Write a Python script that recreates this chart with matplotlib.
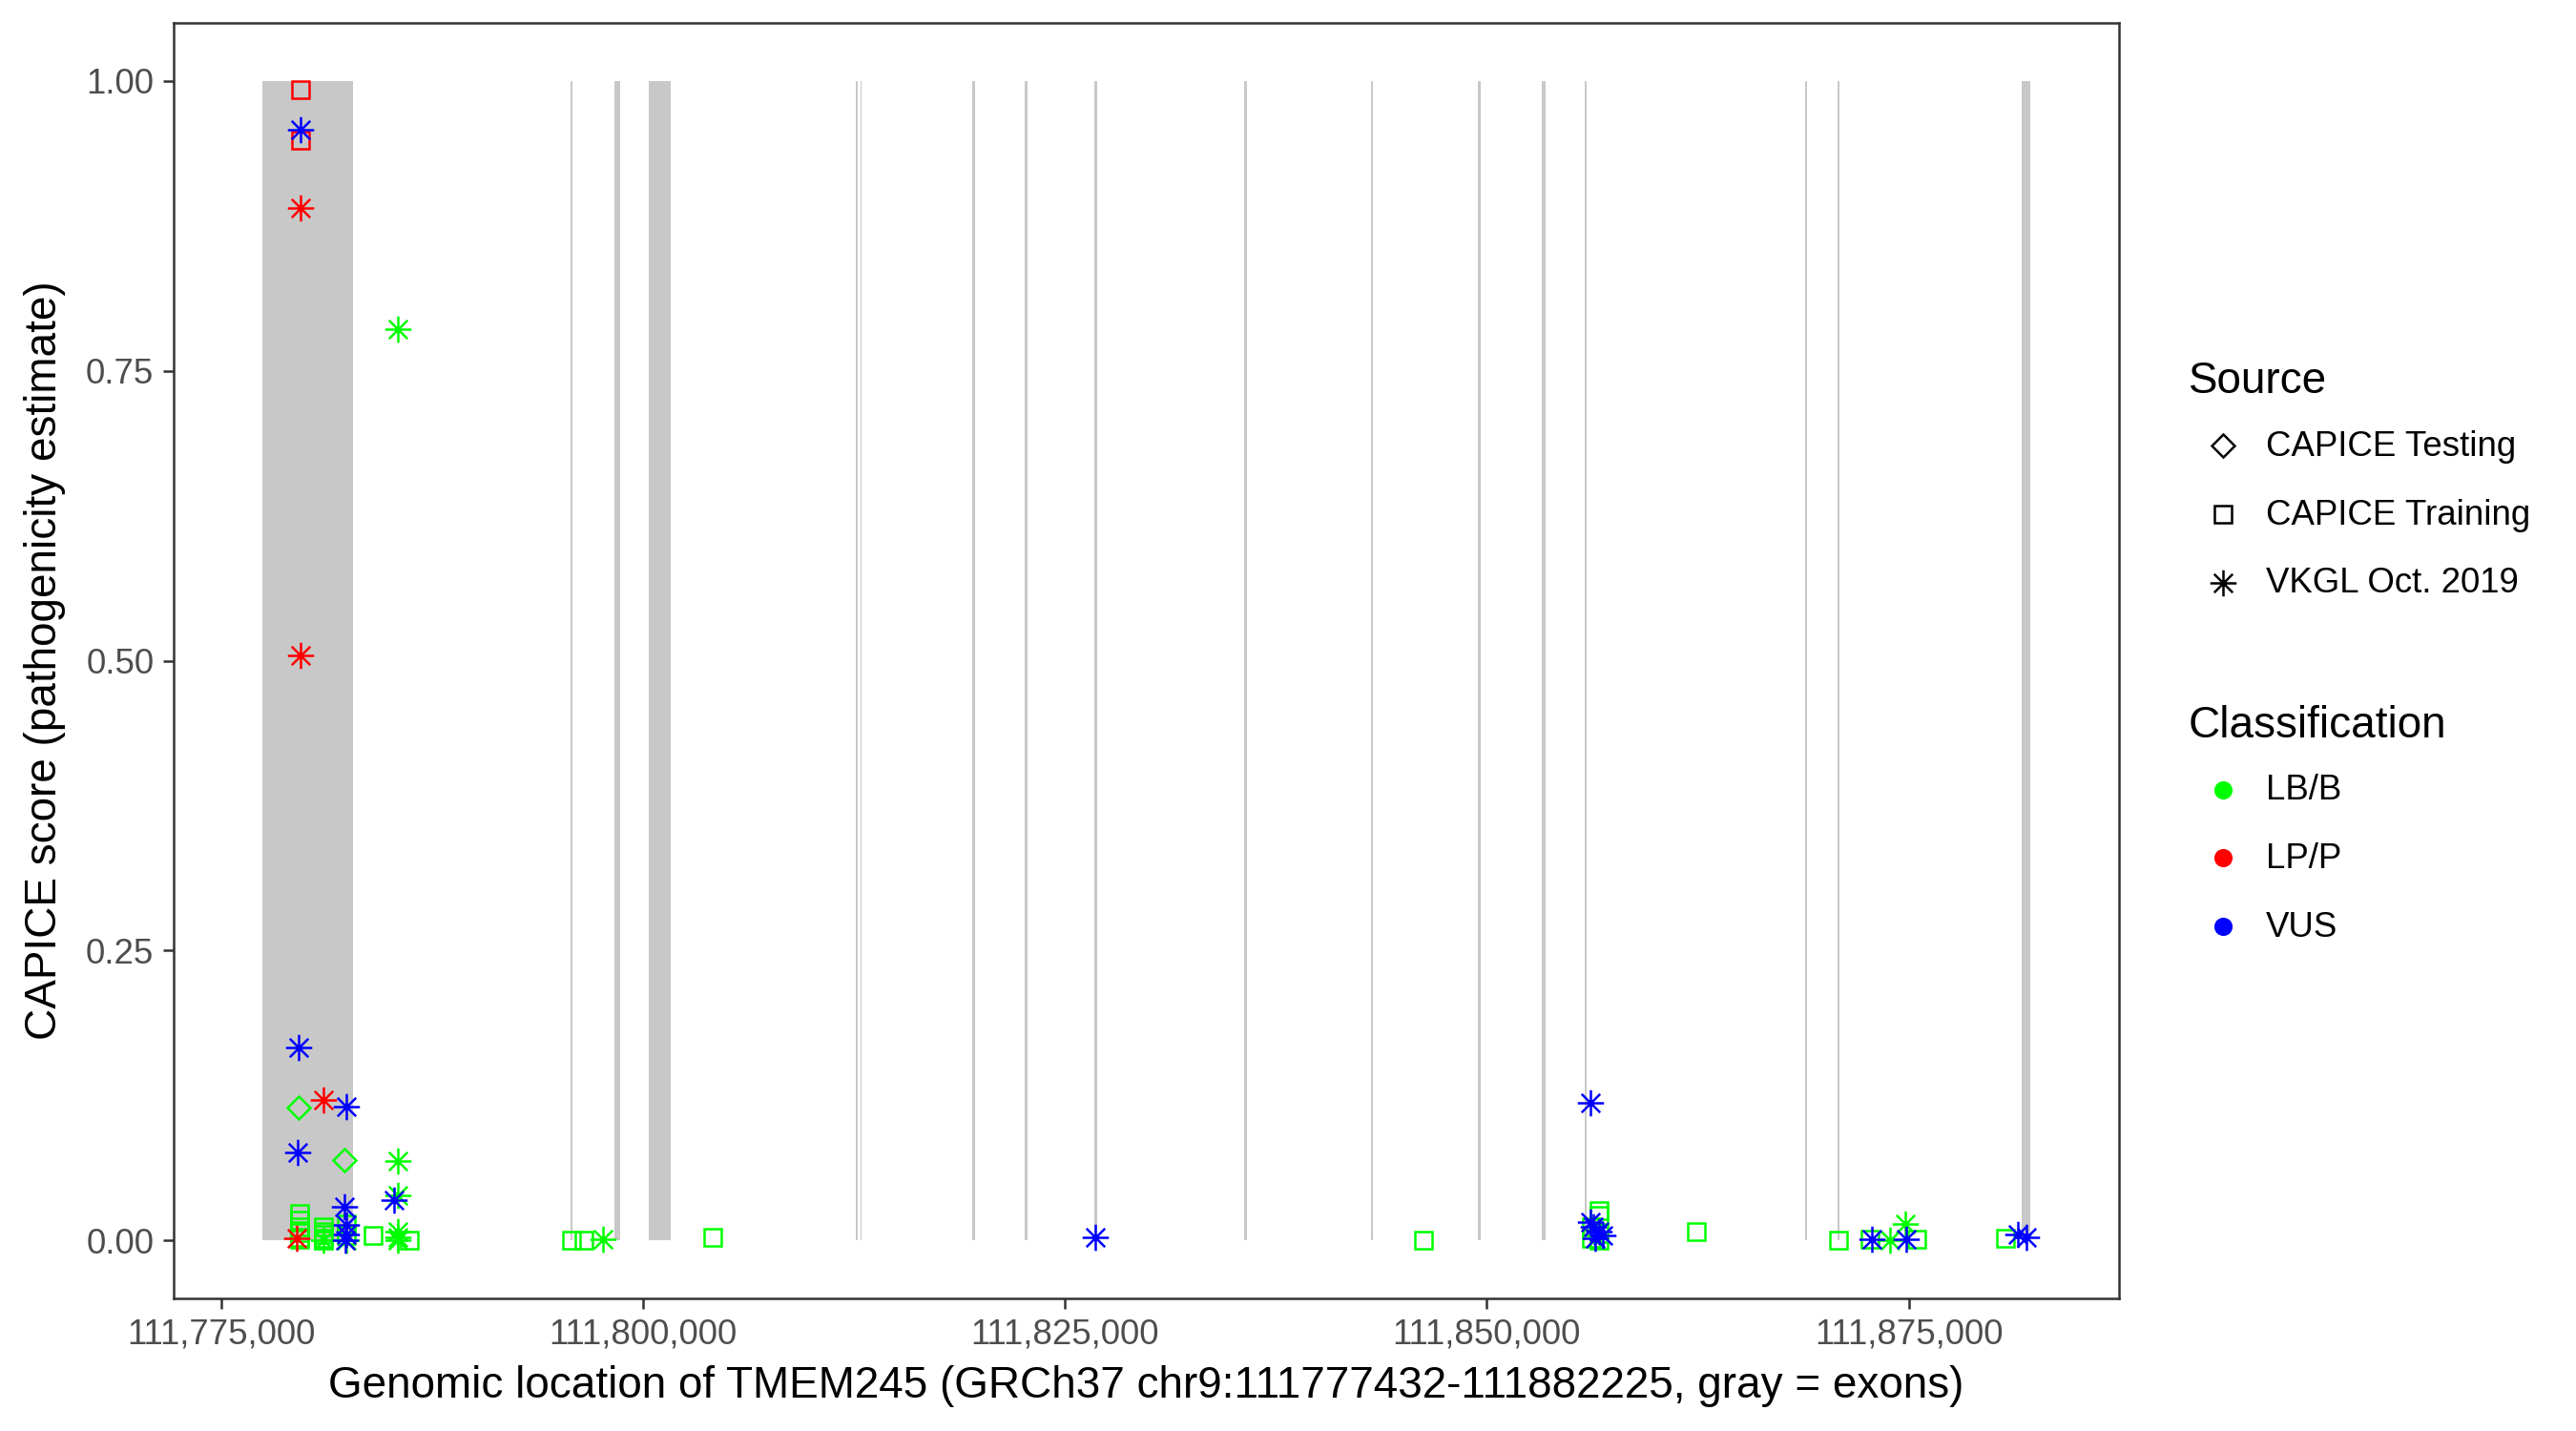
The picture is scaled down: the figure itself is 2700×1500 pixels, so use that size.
import matplotlib
matplotlib.use('Agg')
import matplotlib.pyplot as plt
from matplotlib.path import Path
from matplotlib.lines import Line2D
from matplotlib.ticker import FuncFormatter, FixedLocator
import numpy as np

plt.rcParams['font.family'] = ['Liberation Sans', 'DejaVu Sans']

# ---------------- data ----------------
gene_start = 111777432
gene_end = 111882225

exon_starts = [111777432, 111795700, 111798330, 111800373, 111812640, 111812890,
               111819520, 111822640, 111826760, 111835650, 111843140, 111849490,
               111853290, 111855800, 111868860, 111870800, 111881700]
exon_ends = [111782840, 111795850, 111798660, 111801660, 111812720, 111812970,
             111819660, 111822780, 111826890, 111835790, 111843270, 111849630,
             111853510, 111855930, 111868990, 111870910, 111882225]

# CAPICE Testing
test_lbb_pos = [111779620, 111782320]
test_lbb_score = [0.1149, 0.0694]

# CAPICE Training
train_lpp_pos = [111779700, 111779700]
train_lpp_score = [0.992, 0.949]

train_lbb_pos = [111779650, 111779650, 111779650, 111779650, 111779650, 111779650,
                 111781080, 111781080, 111781080, 111781080, 111781080,
                 111782450, 111782450, 111784000, 111786130,
                 111795786, 111796490, 111804107, 111846230,
                 111856650, 111856650, 111856650, 111856650, 111856200, 111856200,
                 111862400, 111870855, 111872710, 111875460, 111880740]
train_lbb_score = [0.023, 0.0175, 0.012, 0.007, 0.003, 0.001,
                   0.0115, 0.008, 0.005, 0.002, 0.0,
                   0.014, 0.004, 0.0045, 0.0003,
                   0.0, 0.0, 0.003, 0.0,
                   0.0257, 0.0216, 0.006, 0.0, 0.012, 0.002,
                   0.0074, 0.0, 0.001, 0.001, 0.002]

# VKGL Oct. 2019
vkgl_lbb_pos = [111785450, 111785450, 111785450, 111785450, 111785450, 111785450,
                111782400, 111781080, 111797630, 111873900, 111874810]
vkgl_lbb_score = [0.786, 0.0688, 0.039, 0.008, 0.0025, 0.0,
                  0.0, 0.0, 0.001, 0.0, 0.0139]

vkgl_lpp_pos = [111779700, 111779700, 111781060, 111779500]
vkgl_lpp_score = [0.890, 0.5045, 0.121, 0.002]

vkgl_vus_pos = [111779700, 111779580, 111782400, 111779570, 111785270, 111782320,
                111782400, 111782450, 111782350, 111826824, 111856130,
                111856160, 111856330, 111856670, 111856900, 111856450,
                111872830, 111874860, 111881470, 111882000]
vkgl_vus_score = [0.958, 0.1666, 0.1152, 0.0755, 0.0350, 0.0288,
                  0.013, 0.005, 0.0, 0.0025, 0.1185,
                  0.016, 0.012, 0.008, 0.004, 0.002,
                  0.0008, 0.0006, 0.005, 0.003]

x_ticks = [111775000, 111800000, 111825000, 111850000, 111875000]
y_ticks = [0.0, 0.25, 0.50, 0.75, 1.00]

source_labels = ['CAPICE Testing', 'CAPICE Training', 'VKGL Oct. 2019']
class_labels = ['LB/B', 'LP/P', 'VUS']

# ---------------- styles ----------------
GREEN = '#00FF00'
RED = '#FF0000'
BLUE = '#0000FF'
EXON = '#C8C8C8'

d = np.sqrt(0.5)
ast = Path([(-1, 0), (1, 0), (0, -1), (0, 1), (-d, -d), (d, d), (-d, d), (d, -d)],
           [Path.MOVETO, Path.LINETO] * 4)

MEW = 0.6
MS_SQ = 4.2
MS_DI = 4.2
MS_AS = 6.6

W, H = 2700, 1500
fig = plt.figure(figsize=(9, 5), dpi=300)
L, R, T, B = 182, 2221, 24, 1361
ax = fig.add_axes([L / W, 1 - B / H, (R - L) / W, (B - T) / H])

widths = [e - s for s, e in zip(exon_starts, exon_ends)]
ax.bar(exon_starts, [1.0] * len(exon_starts), width=widths, bottom=0, align='edge',
       color=EXON, linewidth=0, zorder=1)

def pts(x, y, marker, ms, color):
    ax.plot(x, y, linestyle='none', marker=marker, ms=ms, mec=color, mfc='none',
            mew=MEW, zorder=3)

pts(train_lbb_pos, train_lbb_score, 's', MS_SQ, GREEN)
pts(train_lpp_pos, train_lpp_score, 's', MS_SQ, RED)
pts(test_lbb_pos, test_lbb_score, 'D', MS_DI, GREEN)
pts(vkgl_lbb_pos, vkgl_lbb_score, ast, MS_AS, GREEN)
pts(vkgl_lpp_pos, vkgl_lpp_score, ast, MS_AS, RED)
pts(vkgl_vus_pos, vkgl_vus_score, ast, MS_AS, BLUE)

span = gene_end - gene_start
ax.set_xlim(gene_start - 0.05 * span, gene_end + 0.05 * span)
ax.set_ylim(-0.05, 1.05)

ax.xaxis.set_major_locator(FixedLocator(x_ticks))
ax.xaxis.set_major_formatter(FuncFormatter(lambda v, p: f"{v:,.0f}"))
ax.yaxis.set_major_locator(FixedLocator(y_ticks))
ax.yaxis.set_major_formatter(FuncFormatter(lambda v, p: f"{v:.2f}"))

for s in ax.spines.values():
    s.set_color('#333333')
    s.set_linewidth(0.6)

ax.tick_params(axis='both', colors='#333333', labelcolor='#4D4D4D', labelsize=8.8,
               length=2.75, width=0.6, pad=2.2)

ax.set_xlabel('Genomic location of TMEM245 (GRCh37 chr9:111777432-111882225, gray = exons)',
              fontsize=11, color='black', labelpad=3.5)
ax.set_ylabel('CAPICE score (pathogenicity estimate)', fontsize=11, color='black', labelpad=5)

# ---------------- legend ----------------
def fx(x):
    return x / W

def fy(y):
    return 1 - y / H

fig.text(fx(2294), fy(400), 'Source', fontsize=11, ha='left', va='center')
src_markers = [('D', MS_DI), ('s', MS_SQ), (ast, MS_AS)]
for (m, ms), lab, yy in zip(src_markers, source_labels, [467, 539, 611]):
    fig.add_artist(Line2D([fx(2330)], [fy(yy)], transform=fig.transFigure, marker=m,
                          ms=ms, mec='black', mfc='none', mew=MEW, linestyle='none'))
    fig.text(fx(2375), fy(yy + 1), lab, fontsize=8.8, ha='left', va='center')

fig.text(fx(2294), fy(761), 'Classification', fontsize=11, ha='left', va='center')
for col, lab, yy in zip([GREEN, RED, BLUE], class_labels, [828, 899, 971]):
    fig.add_artist(Line2D([fx(2330)], [fy(yy)], transform=fig.transFigure, marker='o',
                          ms=4.6, mec='none', mfc=col, linestyle='none'))
    fig.text(fx(2375), fy(yy + 1), lab, fontsize=8.8, ha='left', va='center')

fig.savefig('out.png', dpi=300, facecolor='white')
